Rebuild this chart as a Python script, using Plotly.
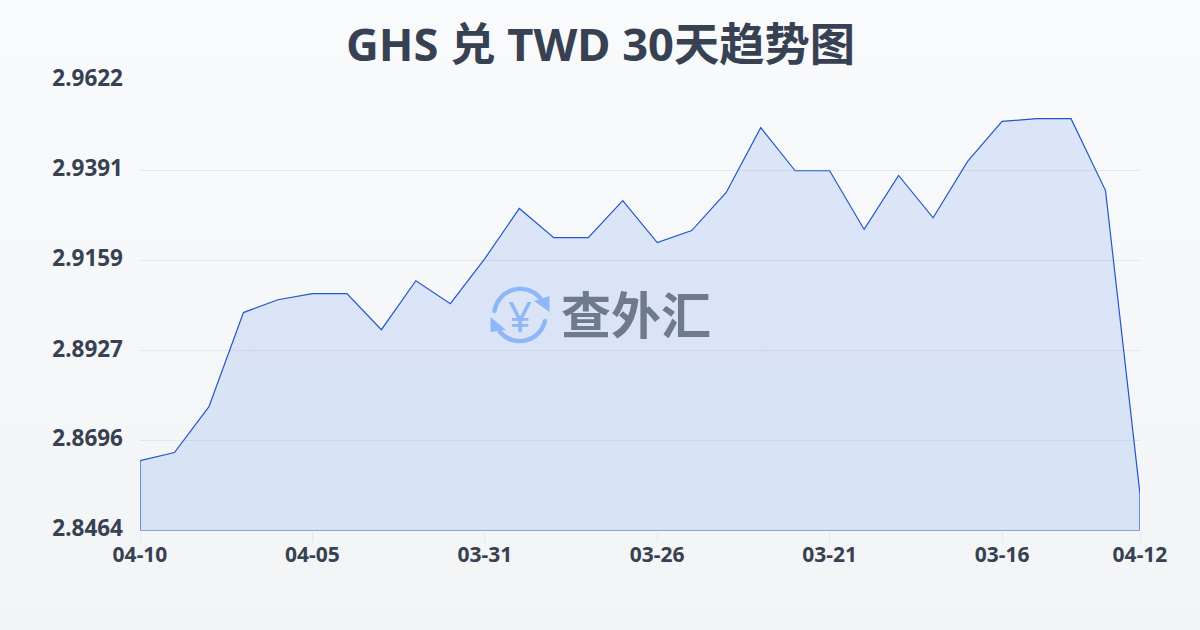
import base64
import plotly.graph_objects as go

W, H = 1200, 630
dates = ["04-10","04-09","04-08","04-07","04-06","04-05","04-04","04-03","04-02","04-01",
         "03-31","03-30","03-29","03-28","03-27","03-26","03-25","03-24","03-23","03-22",
         "03-21","03-20","03-19","03-18","03-17","03-16","03-15","03-14","03-13","04-12"]
rates = [2.8644,2.8665,2.8783,2.9025,2.9058,2.9074,2.9074,2.8981,2.9107,2.9048,
         2.9164,2.9293,2.9218,2.9218,2.9313,2.9205,2.9236,2.9334,2.9501,2.9390,
         2.9390,2.9239,2.9378,2.9269,2.9414,2.9517,2.9524,2.9524,2.9339,2.8558]
x_ticks = ["04-10","04-05","03-31","03-26","03-21","03-16","04-12"]
y_ticks = [2.8464,2.8696,2.8927,2.9159,2.9391,2.9622]
title = "GHS 兑 TWD 30天趋势图"
brand = "查外汇"
yen = "¥"

INK = "#374151"
BLUE = "#2257cc"
FONT = "Noto Sans, Noto Sans CJK SC, sans-serif"

def data_uri(svg):
    return "data:image/svg+xml;base64," + base64.b64encode(svg.encode()).decode()

bg_svg = ('<svg xmlns="http://www.w3.org/2000/svg" width="1200" height="630" preserveAspectRatio="none">'
          '<defs><linearGradient id="g" x1="0" y1="0" x2="0" y2="1"><stop offset="0" stop-color="#f8fafc"/>'
          '<stop offset="1" stop-color="#f2f4f6"/></linearGradient></defs>'
          '<rect width="1200" height="630" fill="url(#g)"/></svg>')
icon_svg = ('<svg xmlns="http://www.w3.org/2000/svg" width="60" height="60" viewBox="0 0 60 60">'
            '<g fill="none" stroke="#8fb7f8" stroke-width="4.4" stroke-linecap="round">'
            '<path d="M4.5 26 A26 26 0 0 1 50 13"/><path d="M55 36 A26 26 0 0 1 10 47"/></g>'
            '<g fill="#8fb7f8"><path d="M44 16 L59.5 11 L59.5 27 Z"/><path d="M0.5 32 L16 45 L0.5 47 Z"/></g></svg>')

fig = go.Figure()
fig.add_trace(go.Scatter(
    x=list(range(len(dates))) + [len(dates) - 1, 0, 0],
    y=rates + [y_ticks[0], y_ticks[0], rates[0]],
    mode="lines", fill="toself", fillcolor="rgba(37,99,235,0.13)",
    line=dict(color=BLUE, width=1.2), hoverinfo="skip", showlegend=False, cliponaxis=False))

fig.update_layout(
    template="none",
    width=W, height=H, margin=dict(l=0, r=0, t=0, b=0, pad=0, autoexpand=False),
    paper_bgcolor="rgba(0,0,0,0)", plot_bgcolor="rgba(0,0,0,0)",
    font=dict(family=FONT, color=INK),
    xaxis=dict(domain=[140/W, 1140/W], range=[0, len(dates) - 1], showgrid=False, zeroline=False,
               automargin=False,
               tickmode="array", tickvals=[dates.index(t) if t != "04-12" else len(dates) - 1 for t in x_ticks],
               ticktext=x_ticks, ticks="outside", ticklen=10, tickwidth=1, tickcolor="#e5e7eb",
               ticklabelstandoff=-5,
               tickfont=dict(size=21, family=FONT, weight="bold", color=INK), showline=False),
    yaxis=dict(domain=[1 - 530.6/H, 1 - 80.6/H], range=[y_ticks[0], y_ticks[-1]], tickmode="array",
               automargin=False,
               tickvals=y_ticks, ticktext=[f"{v:.4f}" for v in y_ticks], showgrid=True,
               gridcolor="#e5e7eb", gridwidth=1, zeroline=False, showline=False, ticks="",
               ticklabelstandoff=16, ticklabelshift=-2,
               tickfont=dict(size=22.5, family=FONT, weight="bold", color=INK)),
    images=[
        dict(source=data_uri(bg_svg), xref="paper", yref="paper", x=0, y=1, sizex=1, sizey=1,
             xanchor="left", yanchor="top", sizing="stretch", layer="below"),
        dict(source=data_uri(icon_svg), xref="paper", yref="paper", x=490/W, y=1 - 285/H,
             sizex=60/W, sizey=60/H, xanchor="left", yanchor="top", sizing="stretch", layer="above"),
    ],
    annotations=[
        dict(text=title, xref="paper", yref="paper", x=0.5, y=1 - 44/H, xanchor="center", yanchor="middle",
             showarrow=False, font=dict(size=45.3, family=FONT, weight="bold", color=INK)),
        dict(text=brand, xref="paper", yref="paper", x=636/W, y=1 - 312/H, xanchor="center", yanchor="middle",
             showarrow=False, font=dict(size=50, family="Noto Sans CJK SC", weight="bold", color="#6f7a8c")),
        dict(text=yen, xref="paper", yref="paper", x=520/W, y=1 - 315/H, xanchor="center", yanchor="middle",
             showarrow=False, font=dict(size=42, family=FONT, color="#8fb7f8")),
    ],
)
fig.write_html("out.html", config=dict(displayModeBar=False), post_script="document.body.style.margin='0';")
